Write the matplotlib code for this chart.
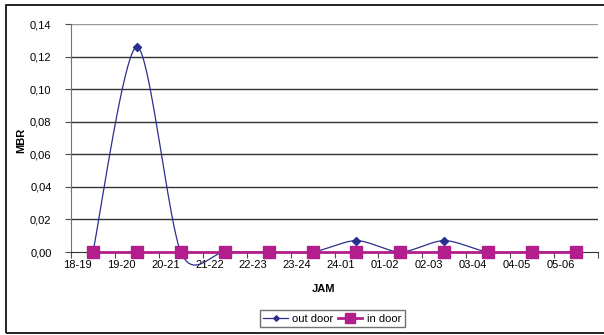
import numpy as np
import matplotlib
matplotlib.use("Agg")
from matplotlib import pyplot as plt
from matplotlib.patches import Rectangle

plt.rcParams['font.family'] = ['Liberation Sans', 'DejaVu Sans']

jam = ["18-19", "19-20", "20-21", "21-22", "22-23", "23-24",
       "24-01", "01-02", "02-03", "03-04", "04-05", "05-06"]
out_door = [0.0, 0.126, 0.0, 0.0, 0.0, 0.0, 0.007, 0.0, 0.007, 0.0, 0.0, 0.0]
in_door = [0.0] * 12

def smooth(x, y, n=40, k=6.0):
    # excel-like smoothed line (bezier, tangent = (p[i+1]-p[i-1])/k)
    x = np.asarray(x, float)
    y = np.asarray(y, float)
    px = np.concatenate([[x[0]], x, [x[-1]]])
    py = np.concatenate([[y[0]], y, [y[-1]]])
    xs, ys = [], []
    t = np.linspace(0, 1, n)
    for i in range(1, len(x)):
        p0 = np.array([px[i], py[i]])
        p3 = np.array([px[i + 1], py[i + 1]])
        p1 = p0 + (np.array([px[i + 1], py[i + 1]]) - np.array([px[i - 1], py[i - 1]])) / k
        p2 = p3 - (np.array([px[i + 2], py[i + 2]]) - np.array([px[i], py[i]])) / k
        b = ((1 - t) ** 3)[:, None] * p0 + (3 * (1 - t) ** 2 * t)[:, None] * p1 \
            + (3 * (1 - t) * t ** 2)[:, None] * p2 + (t ** 3)[:, None] * p3
        xs.extend(b[:, 0])
        ys.extend(b[:, 1])
    return np.array(xs), np.array(ys)

fig = plt.figure(figsize=(6.04, 3.35), dpi=100)
fig.patches.append(Rectangle((6 / 604, 2 / 335), 1.2, 1 - 7 / 335, transform=fig.transFigure,
                             fill=False, edgecolor='black', lw=1.2))
ax = fig.add_axes([71 / 604, 1 - 252 / 335, 527 / 604, 228 / 335])

pos = np.arange(len(jam)) + 0.5
sx, sy = smooth(pos, out_door, k=7.0)
navy = '#2B2F8E'
mag = '#B21F8C'
ax.plot(sx, sy, color=navy, lw=0.9, clip_on=False, zorder=3)
ax.plot(pos, out_door, ls='none', marker='D', ms=4, color=navy, clip_on=False, zorder=3)
ax.plot(pos, in_door, color=mag, lw=2, marker='s', ms=9, clip_on=False, zorder=4)

ax.set_xlim(0, 12)
ax.set_ylim(0, 0.14)
ax.set_yticks(np.arange(0, 0.141, 0.02))
ax.set_yticklabels([("%.2f" % v).replace('.', ',') for v in np.arange(0, 0.141, 0.02)], fontsize=8)
for v in np.arange(0.02, 0.141, 0.02):
    ax.axhline(v, color='0.6' if v > 0.13 else '0.2', lw=1, zorder=1)
ax.set_xticks(np.arange(0, 13))
ax.set_xticklabels([])
ax.set_xticks(np.arange(len(jam)) + 0.15, minor=True)
ax.set_xticklabels(jam, minor=True, fontsize=8)
ax.tick_params(axis='x', which='minor', length=0, pad=6)
ax.tick_params(axis='x', which='major', length=4, width=0.8, color='0.3')
ax.tick_params(axis='y', length=4, width=0.8, color='0.3', pad=10)
ax.spines['top'].set_visible(False)
ax.spines['right'].set_visible(False)
ax.spines['left'].set_color('0.45')
ax.spines['bottom'].set_color('0.2')

fig.text(21 / 604, 1 - 140 / 335, 'MBR', rotation=90, fontsize=8, fontweight='bold',
         ha='center', va='center')
fig.text(324 / 604, 1 - 289 / 335, 'JAM', fontsize=8, fontweight='bold', ha='center', va='center')

h1, = ax.plot([], [], color=navy, lw=0.9, marker='D', ms=3.5)
h2, = ax.plot([], [], color=mag, lw=2, marker='s', ms=9)
leg = fig.legend([h1, h2], ['out door', 'in door'], loc='lower left',
                 bbox_to_anchor=(254 / 604, 2 / 335), ncol=2, fontsize=8, frameon=True,
                 fancybox=False, edgecolor='0.3', handlelength=2.2, handletextpad=0.4,
                 columnspacing=0.4, borderpad=0.35, markerscale=0.8)
leg.get_frame().set_linewidth(1)

fig.savefig('out.png', dpi=100)
